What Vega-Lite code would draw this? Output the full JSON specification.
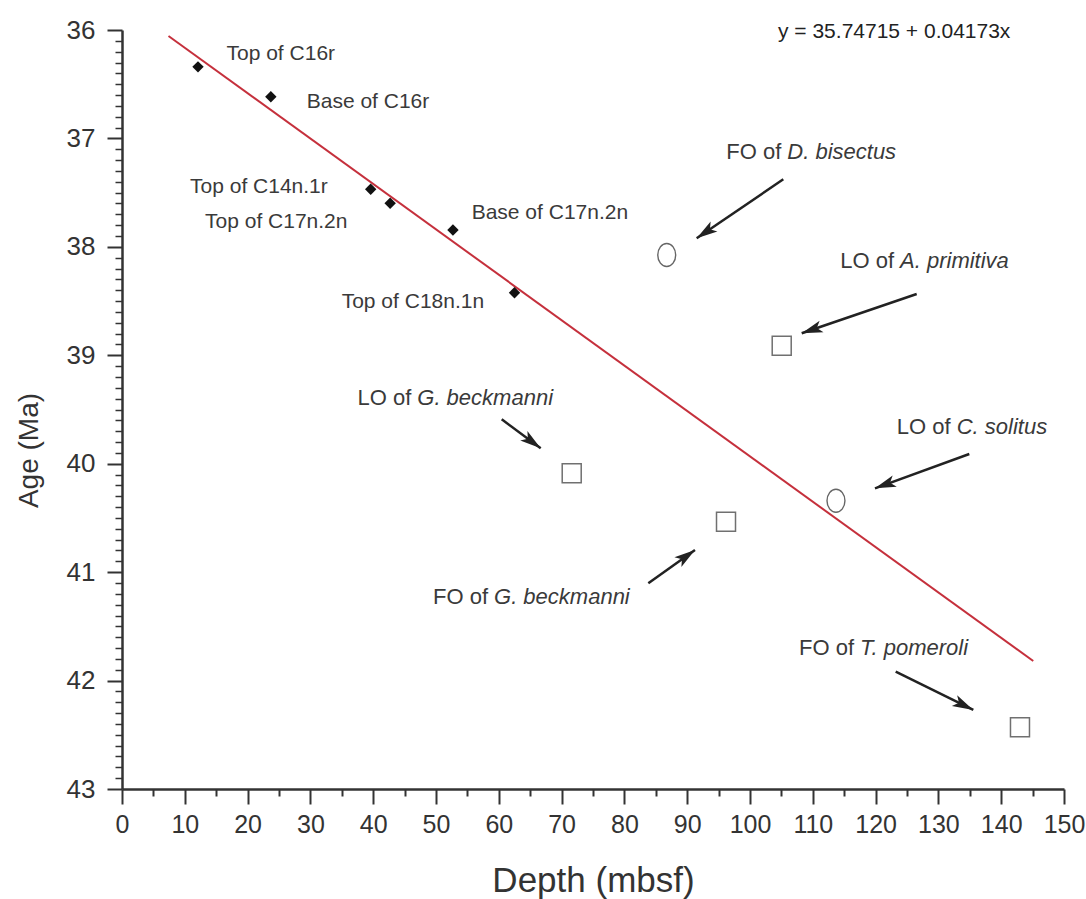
{
  "$schema": "https://vega.github.io/schema/vega-lite/v6.json",
  "width": 942,
  "height": 759,
  "autosize": {"type": "none"},
  "padding": {"left": 122, "top": 30, "right": 22, "bottom": 110},
  "background": "white",
  "config": {"view": {"stroke": null}, "font": "Liberation Sans"},
  "datasets": {
    "fit": [
      {"depth": 7.4, "age": 36.055},
      {"depth": 145.1, "age": 41.82}
    ],
    "chrons": [
      {"label": "Top of C16r", "depth": 12.1, "age": 36.34, "labelDepth": 16.64, "labelAge": 36.221},
      {"label": "Base of C16r", "depth": 23.7, "age": 36.615, "labelDepth": 29.41, "labelAge": 36.661},
      {"label": "Top of C14n.1r", "depth": 39.6, "age": 37.469, "labelDepth": 10.83, "labelAge": 37.445},
      {"label": "Top of C17n.2n", "depth": 42.7, "age": 37.598, "labelDepth": 13.22, "labelAge": 37.768},
      {"label": "Base of C17n.2n", "depth": 52.7, "age": 37.845, "labelDepth": 55.68, "labelAge": 37.69},
      {"label": "Top of C18n.1n", "depth": 62.5, "age": 38.423, "labelDepth": 34.98, "labelAge": 38.506}
    ],
    "events": [
      {"event": "FO D. bisectus", "group": "nannofossil", "prefix": "FO of", "taxon": "D. bisectus", "depth": 86.74, "age": 38.075, "labelDepth": 105.94, "labelAge": 37.122, "tailDepth": 105.3, "tailAge": 37.377, "headDepth": 91.51, "headAge": 37.921},
      {"event": "LO A. primitiva", "group": "foraminifer", "prefix": "LO of", "taxon": "A. primitiva", "depth": 105.05, "age": 38.912, "labelDepth": 123.89, "labelAge": 38.128, "tailDepth": 126.54, "tailAge": 38.435, "headDepth": 108.23, "headAge": 38.797},
      {"event": "LO G. beckmanni", "group": "foraminifer", "prefix": "LO of", "taxon": "G. beckmanni", "depth": 71.61, "age": 40.088, "labelDepth": 47.02, "labelAge": 39.397, "tailDepth": 60.46, "tailAge": 39.59, "headDepth": 66.67, "headAge": 39.858},
      {"event": "FO G. beckmanni", "group": "foraminifer", "prefix": "FO of", "taxon": "G. beckmanni", "depth": 96.18, "age": 40.535, "labelDepth": 59.24, "labelAge": 41.226, "tailDepth": 83.81, "tailAge": 41.103, "headDepth": 91.24, "headAge": 40.796},
      {"event": "LO C. solitus", "group": "nannofossil", "prefix": "LO of", "taxon": "C. solitus", "depth": 113.69, "age": 40.341, "labelDepth": 132.91, "labelAge": 39.659, "tailDepth": 134.92, "tailAge": 39.91, "headDepth": 119.9, "headAge": 40.227},
      {"event": "FO T. pomeroli", "group": "foraminifer", "prefix": "FO of", "taxon": "T. pomeroli", "depth": 142.99, "age": 42.431, "labelDepth": 117.52, "labelAge": 41.702, "tailDepth": 123.2, "tailAge": 41.918, "headDepth": 135.56, "headAge": 42.271}
    ],
    "equation": [
      {"text": "y = 35.74715 + 0.04173x", "depth": 104.46, "age": 36.016}
    ]
  },
  "layer": [
    {
      "data": {"name": "fit"},
      "mark": {"type": "line", "color": "#c5303c", "strokeWidth": 2},
      "encoding": {
        "x": {
          "field": "depth", "type": "quantitative",
          "scale": {"domain": [0, 150], "nice": false, "zero": false},
          "axis": {
            "orient": "bottom",
            "title": "Depth (mbsf)",
            "values": [0, 10, 20, 30, 40, 50, 60, 70, 80, 90, 100, 110, 120, 130, 140, 150],
            "grid": false,
            "tickSize": 15, "tickWidth": 2, "tickColor": "#333",
            "domainColor": "#333", "domainWidth": 2.5,
            "labelFont": "Liberation Sans", "labelFontSize": 25, "labelColor": "#333",
            "labelPadding": 8, "labelFlush": false, "labelOverlap": false,
            "titleFont": "Liberation Sans", "titleFontSize": 35, "titleFontWeight": "normal", "titleColor": "#333",
            "titleBaseline": "alphabetic", "titleY": 102
          }
        },
        "y": {
          "field": "age", "type": "quantitative",
          "scale": {"domain": [36, 43], "reverse": true, "nice": false, "zero": false},
          "axis": {
            "orient": "left",
            "title": "Age (Ma)",
            "values": [36, 37, 38, 39, 40, 41, 42, 43],
            "grid": false,
            "tickSize": 15, "tickWidth": 2, "tickColor": "#333",
            "domainColor": "#333", "domainWidth": 2.5,
            "labelFont": "Liberation Sans", "labelFontSize": 26, "labelColor": "#333",
            "labelPadding": 12, "labelFlush": false, "labelOverlap": false,
            "titleFont": "Liberation Sans", "titleFontSize": 28, "titleFontWeight": "normal", "titleColor": "#333",
            "titleBaseline": "alphabetic", "titleX": -85, "titleY": 420
          }
        }
      }
    },
    {
      "data": {"name": "chrons"},
      "mark": {"type": "point", "shape": "diamond", "filled": true, "color": "#111", "size": 130, "opacity": 1},
      "encoding": {
        "x": {
          "field": "depth", "type": "quantitative",
          "axis": {
            "orient": "bottom", "title": null, "labels": false, "domain": false, "grid": false,
            "values": [5, 15, 25, 35, 45, 55, 65, 75, 85, 95, 105, 115, 125, 135, 145],
            "tickSize": 7, "tickWidth": 2, "tickColor": "#333"
          }
        },
        "y": {
          "field": "age", "type": "quantitative",
          "axis": {
            "orient": "left", "title": null, "labels": false, "domain": false, "grid": false,
            "values": [36.1, 36.2, 36.3, 36.4, 36.5, 36.6, 36.7, 36.8, 36.9, 37.1, 37.2, 37.3, 37.4, 37.5, 37.6, 37.7, 37.8, 37.9, 38.1, 38.2, 38.3, 38.4, 38.5, 38.6, 38.7, 38.8, 38.9, 39.1, 39.2, 39.3, 39.4, 39.5, 39.6, 39.7, 39.8, 39.9, 40.1, 40.2, 40.3, 40.4, 40.5, 40.6, 40.7, 40.8, 40.9, 41.1, 41.2, 41.3, 41.4, 41.5, 41.6, 41.7, 41.8, 41.9, 42.1, 42.2, 42.3, 42.4, 42.5, 42.6, 42.7, 42.8, 42.9],
            "tickSize": 7, "tickWidth": 1.5, "tickColor": "#333"
          }
        }
      }
    },
    {
      "data": {"name": "chrons"},
      "mark": {"type": "text", "align": "left", "baseline": "middle", "font": "Liberation Sans", "fontSize": 21, "color": "#3a3a3a"},
      "encoding": {
        "x": {"field": "labelDepth", "type": "quantitative", "axis": null},
        "y": {"field": "labelAge", "type": "quantitative", "axis": null},
        "text": {"field": "label", "type": "nominal"}
      }
    },
    {
      "data": {"name": "events"},
      "mark": {"type": "rule", "color": "#222", "strokeWidth": 2.5},
      "encoding": {
        "x": {"field": "tailDepth", "type": "quantitative", "axis": null},
        "y": {"field": "tailAge", "type": "quantitative", "axis": null},
        "x2": {"field": "headDepth"},
        "y2": {"field": "headAge"}
      }
    },
    {
      "data": {"name": "events"},
      "mark": {"type": "point", "shape": "M0,0L-0.6,2.1L0,1.6L0.6,2.1Z", "filled": true, "color": "#222", "size": 400, "opacity": 1},
      "encoding": {
        "x": {"field": "headDepth", "type": "quantitative", "axis": null},
        "y": {"field": "headAge", "type": "quantitative", "axis": null},
        "angle": {
          "condition": [
            {"test": "datum.event === 'FO D. bisectus'", "value": 235.7},
            {"test": "datum.event === 'LO A. primitiva'", "value": 251.1},
            {"test": "datum.event === 'LO G. beckmanni'", "value": 126.6},
            {"test": "datum.event === 'FO G. beckmanni'", "value": 54.5},
            {"test": "datum.event === 'LO C. solitus'", "value": 250.0}
          ],
          "value": 116.3
        }
      }
    },
    {
      "data": {"name": "events"},
      "transform": [{"filter": "datum.group === 'nannofossil'"}],
      "mark": {"type": "point", "shape": "M-0.78,0A0.78,1,0,1,1,0.78,0A0.78,1,0,1,1,-0.78,0Z", "filled": false, "color": "#666", "strokeWidth": 1.4, "size": 529, "opacity": 1},
      "encoding": {
        "x": {"field": "depth", "type": "quantitative", "axis": null},
        "y": {"field": "age", "type": "quantitative", "axis": null}
      }
    },
    {
      "data": {"name": "events"},
      "transform": [{"filter": "datum.group === 'foraminifer'"}],
      "mark": {"type": "point", "shape": "square", "filled": false, "color": "#707070", "strokeWidth": 1.5, "size": 361, "opacity": 1},
      "encoding": {
        "x": {"field": "depth", "type": "quantitative", "axis": null},
        "y": {"field": "age", "type": "quantitative", "axis": null}
      }
    },
    {
      "data": {"name": "events"},
      "mark": {"type": "text", "align": "right", "baseline": "middle", "dx": -6, "font": "Liberation Sans", "fontSize": 22, "color": "#3a3a3a"},
      "encoding": {
        "x": {"field": "labelDepth", "type": "quantitative", "axis": null},
        "y": {"field": "labelAge", "type": "quantitative", "axis": null},
        "text": {"field": "prefix", "type": "nominal"}
      }
    },
    {
      "data": {"name": "events"},
      "mark": {"type": "text", "align": "left", "baseline": "middle", "font": "Liberation Sans", "fontStyle": "italic", "fontSize": 22, "color": "#3a3a3a"},
      "encoding": {
        "x": {"field": "labelDepth", "type": "quantitative", "axis": null},
        "y": {"field": "labelAge", "type": "quantitative", "axis": null},
        "text": {"field": "taxon", "type": "nominal"}
      }
    },
    {
      "data": {"name": "equation"},
      "mark": {"type": "text", "align": "left", "baseline": "middle", "font": "Liberation Sans", "fontSize": 21, "color": "#222"},
      "encoding": {
        "x": {"field": "depth", "type": "quantitative", "axis": null},
        "y": {"field": "age", "type": "quantitative", "axis": null},
        "text": {"field": "text", "type": "nominal"}
      }
    }
  ],
  "resolve": {"axis": {"x": "independent", "y": "independent"}}
}
